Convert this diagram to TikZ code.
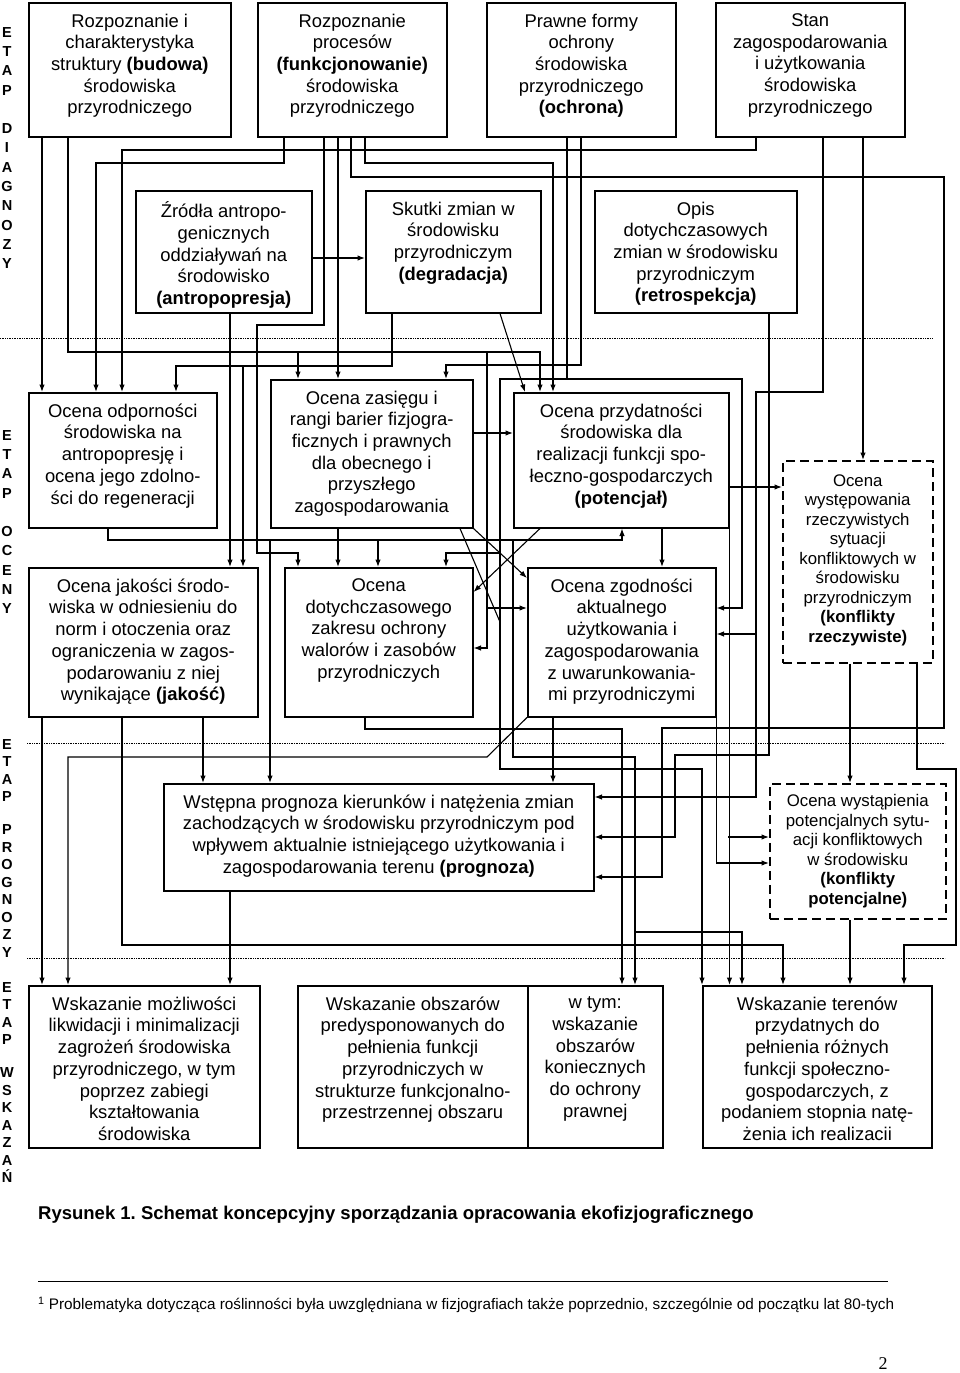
\documentclass[tikz,border=0pt]{standalone}
\usepackage{fontspec}
\setmainfont{Liberation Sans}
\newfontfamily\pagefont{Liberation Serif}
\usepackage{tikz}
\usetikzlibrary{arrows.meta}
\frenchspacing

\tikzset{
	box/.style={draw, line width=1.5pt, inner sep=0pt, anchor=north west},
	dashbox/.style={box, dash pattern=on 9pt off 5pt},
	txt/.style={anchor=north, yshift=-11.5pt, align=center, inner sep=0pt, font=\fontsize{18.4pt}{21.7pt}\selectfont},
	smalltxt/.style={txt, font=\fontsize{16.8pt}{19.5pt}\selectfont},
	arr/.style={line width=1.1pt, -{Latex[length=7.5pt,width=5.5pt]}},
	link/.style={line width=1.1pt},
	etap/.style={anchor=north, align=center, inner sep=0pt, font=\fontsize{14.5pt}{19.3pt}\bfseries\selectfont},
	etapb/.style={etap, font=\fontsize{14.5pt}{17.5pt}\bfseries\selectfont},
	stage/.style={densely dotted, line width=0.7pt}
}

\begin{document}
\begin{tikzpicture}[x=1pt, y=-1pt]
	\useasboundingbox (0,0) rectangle (960,1373);

	\node[etap] (etapdiag) at (7,27) {E\\T\\A\\P\\[19.3pt]D\\I\\A\\G\\N\\O\\Z\\Y};
	\node[etap] (etapocen) at (7,430) {E\\T\\A\\P\\[19.3pt]O\\C\\E\\N\\Y};
	\node[etapb] (etapprog) at (7,739) {E\\T\\A\\P\\[15.5pt]P\\R\\O\\G\\N\\O\\Z\\Y};
	\node[etapb] (etapwsk) at (7,982) {E\\T\\A\\P\\[15.5pt]W\\S\\K\\A\\Z\\A\\Ń};

	\draw[stage] (0,338) -- (932,338);
	\draw[stage] (27,743) -- (945,743);
	\draw[stage] (27,958) -- (945,958);

	\node[box, minimum width=202pt, minimum height=134pt, label={[txt]north:{Rozpoznanie i\\charakterystyka\\struktury \textbf{(budowa)}\\środowiska\\przyrodniczego}}] (budowa) at (28,2) {};
	\node[box, minimum width=189pt, minimum height=134pt, label={[txt]north:{Rozpoznanie\\procesów\\\textbf{(funkcjonowanie)}\\środowiska\\przyrodniczego}}] (procesy) at (257,2) {};
	\node[box, minimum width=189pt, minimum height=134pt, label={[txt]north:{Prawne formy\\ochrony\\środowiska\\przyrodniczego\\\textbf{(ochrona)}}}] (ochrona) at (486,2) {};
	\node[box, minimum width=189pt, minimum height=134pt, label={[txt]north:{Stan\\zagospodarowania\\i użytkowania\\środowiska\\przyrodniczego}}] (stan) at (715,2) {};

	\node[box, minimum width=176pt, minimum height=122pt, label={[txt]north:{Źródła antropo-\\genicznych\\oddziaływań na\\środowisko\\\textbf{(antropopresja)}}}] (zrodla) at (135,190) {};
	\node[box, minimum width=175pt, minimum height=122pt, label={[txt]north:{Skutki zmian w\\środowisku\\przyrodniczym\\\textbf{(degradacja)}}}] (skutki) at (365,190) {};
	\node[box, minimum width=202pt, minimum height=122pt, label={[txt]north:{Opis\\dotychczasowych\\zmian w środowisku\\przyrodniczym\\\textbf{(retrospekcja)}}}] (opis) at (594,190) {};

	\node[box, minimum width=188pt, minimum height=135pt, label={[txt]north:{Ocena odporności\\środowiska na\\antropopresję i\\ocena jego zdolno-\\ści do regeneracji}}] (odpornosc) at (28,392) {};
	\node[box, minimum width=202pt, minimum height=148pt, label={[txt]north:{Ocena zasięgu i\\rangi barier fizjogra-\\ficznych i prawnych\\dla obecnego i\\przyszłego\\zagospodarowania}}] (bariery) at (270,379) {};
	\node[box, minimum width=215pt, minimum height=135pt, label={[txt]north:{Ocena przydatności\\środowiska dla\\realizacji funkcji spo-\\łeczno-gospodarczych\\\textbf{(potencjał)}}}] (przydatnosc) at (513,392) {};
	\node[dashbox, minimum width=150pt, minimum height=202pt, label={[smalltxt, yshift=-3pt]north:{Ocena\\występowania\\rzeczywistych\\sytuacji\\konfliktowych w\\środowisku\\przyrodniczym\\\textbf{(konflikty}\\\textbf{rzeczywiste)}}}] (konflikty) at (782,460) {};

	\node[box, minimum width=229pt, minimum height=149pt, label={[txt]north:{Ocena jakości środo-\\wiska w odniesieniu do\\norm i otoczenia oraz\\ograniczenia w zagos-\\podarowaniu z niej\\wynikające \textbf{(jakość)}}}] (jakosc) at (28,567) {};
	\node[box, minimum width=188pt, minimum height=149pt, label={[txt]north:{Ocena\\dotychczasowego\\zakresu ochrony\\walorów i zasobów\\przyrodniczych}}] (zakres) at (284,567) {};
	\node[box, minimum width=188pt, minimum height=149pt, label={[txt]north:{Ocena zgodności\\aktualnego\\użytkowania i\\zagospodarowania\\z uwarunkowania-\\mi przyrodniczymi}}] (zgodnosc) at (527,567) {};

	\node[box, minimum width=430pt, minimum height=107pt, label={[txt]north:{Wstępna prognoza kierunków i natężenia zmian\\zachodzących w środowisku przyrodniczym pod\\wpływem aktualnie istniejącego użytkowania i\\zagospodarowania terenu \textbf{(prognoza)}}}] (prognoza) at (163,783) {};
	\node[dashbox, minimum width=176pt, minimum height=135pt, label={[smalltxt]north:{Ocena wystąpienia\\potencjalnych sytu-\\acji konfliktowych\\w środowisku\\\textbf{(konflikty}\\\textbf{potencjalne)}}}] (potencjalne) at (769,783) {};

	\node[box, minimum width=231pt, minimum height=162pt, label={[txt]north:{Wskazanie możliwości\\likwidacji i minimalizacji\\zagrożeń środowiska\\przyrodniczego, w tym\\poprzez zabiegi\\kształtowania\\środowiska}}] (likwidacja) at (28,985) {};
	\node[box, minimum width=230pt, minimum height=162pt, label={[txt]north:{Wskazanie obszarów\\predysponowanych do\\pełnienia funkcji\\przyrodniczych w\\strukturze funkcjonalno-\\przestrzennej obszaru}}] (obszary) at (297,985) {};
	\node[box, minimum width=135pt, minimum height=162pt, label={[txt]north:{w tym:\\wskazanie\\obszarów\\koniecznych\\do ochrony\\prawnej}}] (wtym) at (527,985) {};
	\node[box, minimum width=229pt, minimum height=162pt, label={[txt]north:{Wskazanie terenów\\przydatnych do\\pełnienia różnych\\funkcji społeczno-\\gospodarczych, z\\podaniem stopnia natę-\\żenia ich realizacii}}] (tereny) at (702,985) {};

	\coordinate (budowaB) at (298,352);
	\coordinate (budowaZ) at (487,352);
	\coordinate (budowaG) at (487,608);
	\coordinate (ochronaG) at (567,379);
	\coordinate (ochronaZ) at (500,553);
	\coordinate (ochronaM) at (500,622);
	\coordinate (stanG) at (756,634);
	\coordinate (skutkiJ) at (243,366);
	\coordinate (odpornoscP) at (270,540);
	\coordinate (odpornoscZ) at (378,540);
	\coordinate (odpornoscW) at (513,540);
	\coordinate (odpornoscT) at (635,932);
	\coordinate (przydatnoscK) at (728,837);

	\draw[arr] (budowa.south -| 42,0) -- (odpornosc.north -| 42,0);
	\draw[arr] (budowa.south -| 68,0) |- (540,352) -- (przydatnosc.north -| 540,0);
	\draw[arr] (budowaB) -- (bariery.north -| budowaB);
	\draw[arr] (budowaZ) |- (zakres.east |- 0,648);
	\draw[arr] (budowaG) -- (zgodnosc.west |- budowaG);

	\draw[arr] (procesy.south -| 284,0) |- (96,163) -- (odpornosc.north -| 96,0);
	\draw[arr] (procesy.south -| 324,0) |- (257,325) |- (298,553) -- (zakres.north -| 298,0);
	\draw[arr] (procesy.south -| 338,0) -- (bariery.north -| 338,0);
	\draw[arr] (procesy.south -| 351,0) |- (944,177) |- (662,728) |- (prognoza.east |- 0,877);
	\draw[arr] (procesy.south -| 365,0) |- (553,163) -- (przydatnosc.north -| 553,0);

	\draw[arr] (ochrona.south -| 581,0) |- (446,365) -- (bariery.north -| 446,0);
	\draw[arr] (ochrona.south -| 567,0) |- (500,379) |- (702,769) -- (tereny.north -| 702,0);
	\draw[arr] (ochronaG) -| (742,608) -- (zgodnosc.east |- 0,608);
	\draw[arr] (ochronaZ) -| (zakres.north -| 446,0);

	\draw[arr] (stan.south -| 756,0) |- (122,150) -- (odpornosc.north -| 122,0);
	\draw[arr] (stan.south -| 823,0) |- (756,392) |- (prognoza.east |- 0,797);
	\draw[arr] (stanG) -- (zgodnosc.east |- stanG);
	\draw[arr] (stan.south -| 863,0) -- (konflikty.north -| 863,0);

	\draw[arr] (zrodla.east |- 0,258) -- (skutki.west |- 0,258);
	\draw[arr] (zrodla.south -| 230,0) -- (jakosc.north -| 230,0);

	\draw[arr] (skutki.south -| 392,0) |- (176,366) -- (odpornosc.north -| 176,0);
	\draw[arr] (skutkiJ) -- (jakosc.north -| skutkiJ);
	\draw[arr] (skutki.south -| 500,0) -- (przydatnosc.north -| 525,0);

	\draw[arr] (opis.south -| 769,0) |- (675,755) |- (prognoza.east |- 0,837);

	\draw[arr] (odpornosc.south -| 108,0) |- (622,540) -- (przydatnosc.south -| 622,0);
	\draw[arr] (odpornoscP) -- (prognoza.north -| odpornoscP);
	\draw[arr] (odpornoscZ) -- (zakres.north -| odpornoscZ);
	\draw[arr] (odpornoscW) |- (635,757) -- (wtym.north -| 635,0);
	\draw[arr] (odpornoscT) -| (tereny.north -| 742,0);

	\draw[arr] (bariery.east |- 0,433) -- (przydatnosc.west |- 0,433);
	\draw[arr] (bariery.south -| 338,0) -- (zakres.north -| 338,0);
	\draw[arr] (bariery.south east) -- (zgodnosc.west |- 0,578);
	\draw[link] (bariery.south -| 460,0) -- (ochronaM);

	\draw[arr] (przydatnosc.east |- 0,487) -- (konflikty.west |- 0,487);
	\draw[arr] (przydatnosc.south -| 662,0) -- (zgodnosc.north -| 662,0);
	\draw[arr] (przydatnosc.south -| 540,0) -- (zakres.east |- 0,592);
	\draw[arr] (przydatnosc.south east) -- (tereny.north -| przydatnosc.south east);
	\draw[arr] (przydatnoscK) -- (potencjalne.west |- przydatnoscK);

	\draw[arr] (zgodnosc.south east) |- (potencjalne.west |- 0,863);
	\draw[arr] (zgodnosc.south -| 553,0) -- (prognoza.north -| 553,0);
	\draw[arr] (zgodnosc.south west) -- (487,757) -| (likwidacja.north -| 68,0);

	\draw[arr] (jakosc.south -| 42,0) -- (likwidacja.north -| 42,0);
	\draw[arr] (jakosc.south -| 122,0) |- (783,945) -- (tereny.north -| 783,0);
	\draw[arr] (jakosc.south -| 203,0) -- (prognoza.north -| 203,0);

	\draw[arr] (zakres.south -| 365,0) |- (622,729) -- (wtym.north -| 622,0);

	\draw[arr] (prognoza.south -| 230,0) -- (likwidacja.north -| 230,0);

	\draw[arr] (konflikty.south -| 850,0) -- (potencjalne.north -| 850,0);
	\draw[arr] (konflikty.south -| 917,0) |- (956,769) |- (904,945) -- (tereny.north -| 904,0);
	\draw[arr] (potencjalne.south -| 850,0) -- (tereny.north -| 850,0);

	\node[anchor=west, inner sep=0pt, font=\fontsize{18.5pt}{22pt}\bfseries\selectfont] (podpis) at (38,1215) {Rysunek 1. Schemat koncepcyjny sporządzania opracowania ekofizjograficznego};
	\draw[line width=0.8pt] (38,1281) -- (888,1281);
	\node[anchor=west, inner sep=0pt, font=\fontsize{15.3pt}{18pt}\selectfont] (przypis) at (38,1305) {\textsuperscript{1} Problematyka dotycząca roślinności była uwzględniana w fizjografiach także poprzednio, szczególnie od początku lat 80-tych};
	\node[inner sep=0pt, font=\pagefont\fontsize{18pt}{20pt}\selectfont] (strona) at (883,1364) {2};
\end{tikzpicture}
\end{document}
